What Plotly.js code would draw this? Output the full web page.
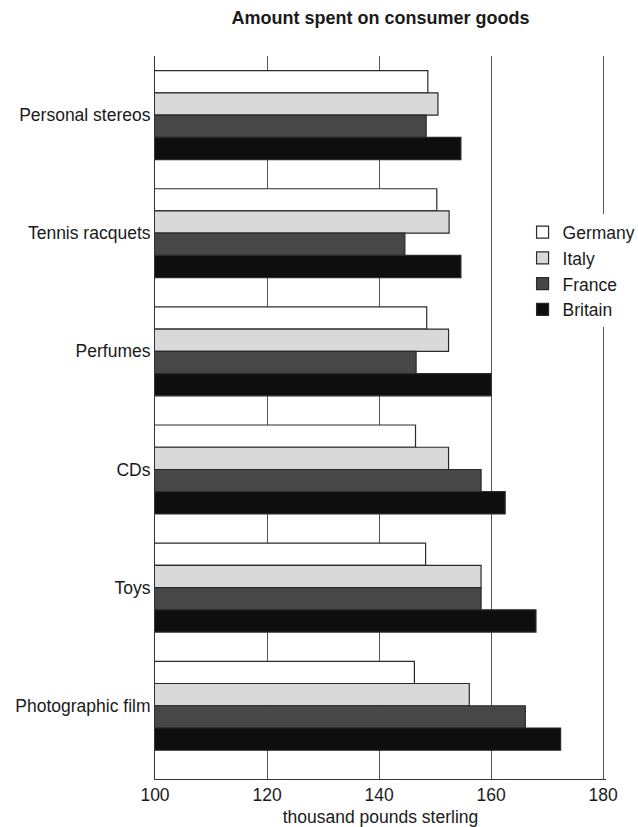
<!DOCTYPE html>
<html>
<head>
<meta charset="utf-8">
<script src="https://cdn.plot.ly/plotly-3.0.1.min.js"></script>
<style>html,body{margin:0;padding:0;background:#fff;}#chart{width:638px;height:827px;}</style>
</head>
<body>
<div id="chart"></div>
<script>
var categories = ['Personal stereos', 'Tennis racquets', 'Perfumes', 'CDs', 'Toys', 'Photographic film'];
var seriesNames = ['Germany', 'Italy', 'France', 'Britain'];
var germany = [148.7, 150.3, 148.5, 146.5, 148.3, 146.3];
var italy   = [150.5, 152.5, 152.4, 152.4, 158.2, 156.1];
var france  = [148.4, 144.6, 146.6, 158.2, 158.2, 166.1];
var britain = [154.6, 154.6, 160.0, 162.5, 168.0, 172.4];
var xTicks = [100, 120, 140, 160, 180];

var seriesValues = [germany, italy, france, britain];
var fills = ['#ffffff', '#d9d9d9', '#474747', '#0e0e0e'];
var FONT = 'Liberation Sans, Arial, Helvetica, sans-serif';
var FS = 17.5;

var traces = seriesNames.map(function (name, i) {
  return {
    type: 'bar',
    orientation: 'h',
    name: name,
    legendgroup: name,
    y: categories,
    x: seriesValues[i],
    marker: { color: fills[i], line: { color: '#2a2a2a', width: 1.2 } },
    hoverinfo: 'x+name'
  };
});

var layout = {
  width: 638,
  height: 827,
  margin: { l: 155, r: 32, t: 56, b: 48, autoexpand: false },
  paper_bgcolor: '#ffffff',
  plot_bgcolor: '#ffffff',
  font: { family: FONT, size: FS, color: '#1a1a1a' },
  title: {
    text: '<b>Amount spent on consumer goods</b>',
    font: { family: FONT, size: 18, color: '#1a1a1a' },
    xref: 'paper', x: 0.5, xanchor: 'center',
    yref: 'container', y: 0.979, yanchor: 'middle'
  },
  barmode: 'group',
  bargap: 0.247,
  bargroupgap: 0,
  xaxis: {
    range: [100, 180.5],
    tickvals: xTicks,
    ticktext: xTicks.map(String),
    showgrid: true,
    gridcolor: '#555555',
    gridwidth: 1,
    showline: true,
    linecolor: '#333333',
    linewidth: 1,
    zeroline: false,
    ticks: '',
    tickfont: { family: FONT, size: FS, color: '#1a1a1a' },
    automargin: false,
    title: { text: 'thousand pounds sterling', font: { family: FONT, size: FS, color: '#1a1a1a' }, standoff: 6 }
  },
  yaxis: {
    type: 'category',
    range: [5.62, -0.5],
    showgrid: false,
    showline: true,
    linecolor: '#333333',
    linewidth: 1,
    zeroline: false,
    ticks: '',
    tickfont: { family: FONT, size: FS, color: '#1a1a1a' },
    automargin: false
  },
  showlegend: true,
  legend: {
    x: 0.815, xanchor: 'left',
    y: 0.781, yanchor: 'top',
    bgcolor: '#ffffff',
    borderwidth: 0,
    traceorder: 'grouped',
    tracegroupgap: 0,
    font: { family: FONT, size: FS, color: '#1a1a1a' }
  }
};

Plotly.newPlot('chart', traces, layout, { staticPlot: true, displayModeBar: false });
</script>
</body>
</html>
